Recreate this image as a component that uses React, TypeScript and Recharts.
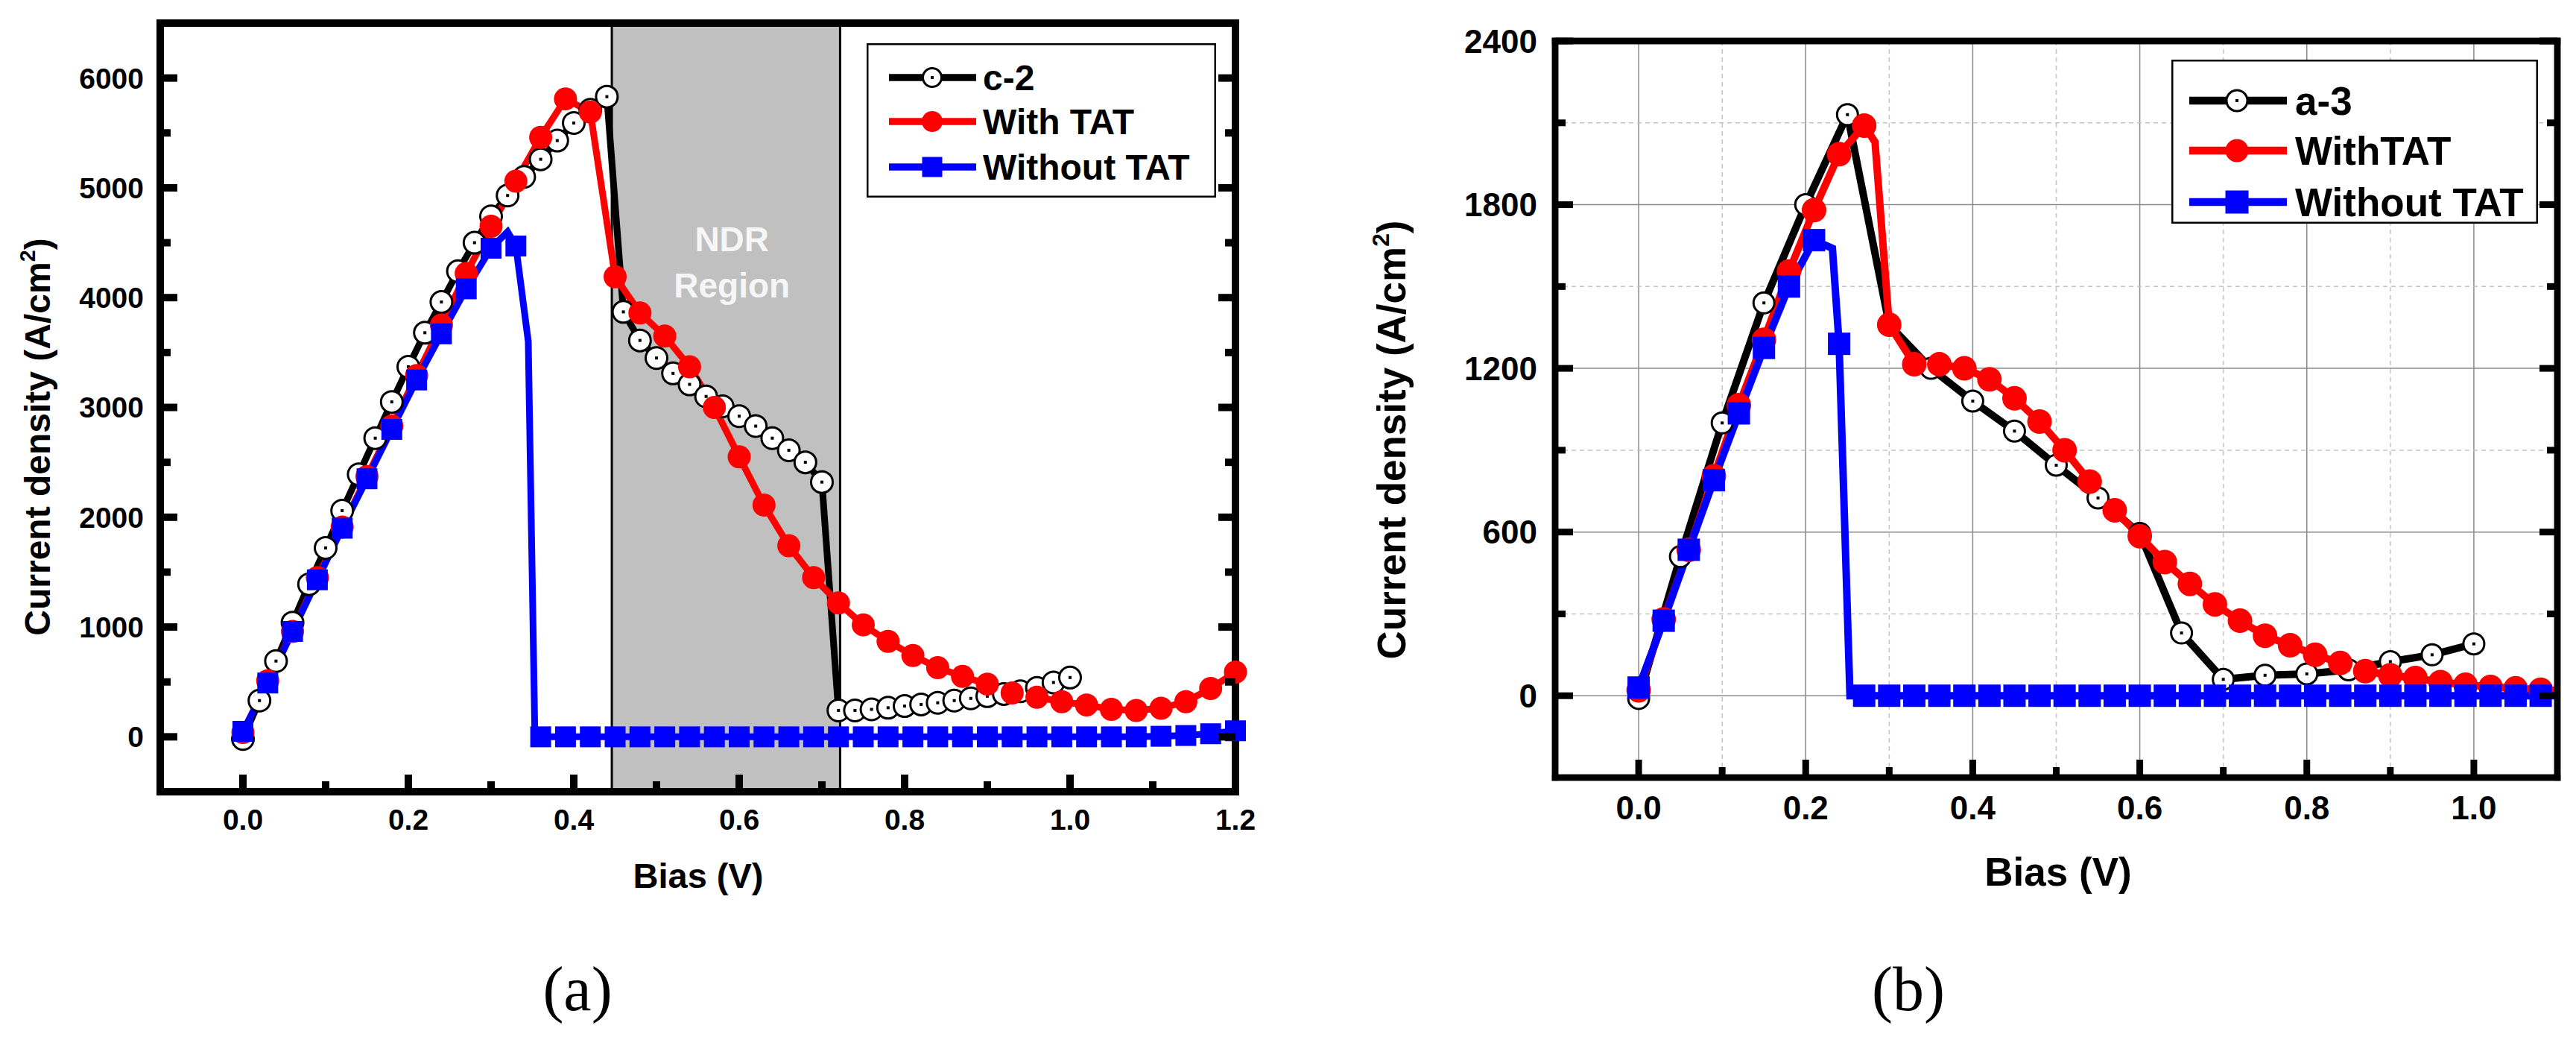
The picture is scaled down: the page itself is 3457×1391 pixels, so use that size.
import React from 'react';
import { LineChart, Line, XAxis, YAxis, CartesianGrid, ReferenceArea, Legend } from 'recharts';

const PAGE_W = 3457;
const PAGE_H = 1391;
const SANS = '"Liberation Sans", Arial, Helvetica, sans-serif';
const SERIF = '"Liberation Serif", "Times New Roman", serif';

const RED = '#ff0000';
const BLUE = '#0000ff';

// ---------- panel (a): sample c-2 ----------
const c2Bias = [0, 0.02, 0.04, 0.06, 0.08, 0.1, 0.12, 0.14, 0.16, 0.18, 0.2, 0.22, 0.24, 0.26, 0.28, 0.3, 0.32, 0.34, 0.36, 0.38, 0.4, 0.42, 0.44, 0.46, 0.48, 0.5, 0.52, 0.54, 0.56, 0.58, 0.6, 0.62, 0.64, 0.66, 0.68, 0.7, 0.72, 0.74, 0.76, 0.78, 0.8, 0.82, 0.84, 0.86, 0.88, 0.9, 0.92, 0.94, 0.96, 0.98, 1.0];
const c2Current = [-20, 330, 690, 1040, 1390, 1720, 2060, 2390, 2720, 3050, 3370, 3680, 3960, 4240, 4500, 4740, 4930, 5100, 5260, 5430, 5590, 5710, 5830, 3870, 3610, 3450, 3310, 3210, 3100, 3010, 2920, 2830, 2720, 2610, 2500, 2320, 240, 240, 250, 265, 280, 295, 310, 330, 350, 370, 390, 415, 445, 495, 540];

const withTatBiasA = [0, 0.03, 0.06, 0.09, 0.12, 0.15, 0.18, 0.21, 0.24, 0.27, 0.3, 0.33, 0.36, 0.39, 0.42, 0.45, 0.48, 0.51, 0.54, 0.57, 0.6, 0.63, 0.66, 0.69, 0.72, 0.75, 0.78, 0.81, 0.84, 0.87, 0.9, 0.93, 0.96, 0.99, 1.02, 1.05, 1.08, 1.11, 1.14, 1.17, 1.2];
const withTatCurrentA = [40, 510, 960, 1450, 1910, 2370, 2830, 3290, 3750, 4220, 4650, 5060, 5460, 5810, 5690, 4190, 3860, 3650, 3370, 3000, 2550, 2110, 1740, 1450, 1220, 1020, 870, 740, 630, 550, 480, 400, 360, 320, 290, 250, 240, 260, 320, 440, 590];

const noTatBiasA = [0, 0.03, 0.06, 0.09, 0.12, 0.15, 0.18, 0.21, 0.24, 0.27, 0.3, 0.32, 0.33, 0.345, 0.353, 0.36, 0.39, 0.42, 0.45, 0.48, 0.51, 0.54, 0.57, 0.6, 0.63, 0.66, 0.69, 0.72, 0.75, 0.78, 0.81, 0.84, 0.87, 0.9, 0.93, 0.96, 0.99, 1.02, 1.05, 1.08, 1.11, 1.14, 1.17, 1.2];
const noTatCurrentA = [50, 490, 960, 1430, 1900, 2350, 2800, 3250, 3670, 4080, 4450, 4600, 4470, 3600, 0, 0, 0, 0, 0, 0, 0, 0, 0, 0, 0, 0, 0, 0, 0, 0, 0, 0, 0, 0, 0, 0, 0, 0, 0, 0, 5, 12, 28, 55];
// simulation points drawn as line only (no symbol)
const noTatBareA = [0.32, 0.345, 0.353];

const namesA = ['c-2', 'With TAT', 'Without TAT'];
const ndrRange = [0.446, 0.722];

const xMajorA = [0, 0.2, 0.4, 0.6, 0.8, 1.0, 1.2];
const xMinorA = [0.1, 0.3, 0.5, 0.7, 0.9, 1.1];
const yMajorA = [0, 1000, 2000, 3000, 4000, 5000, 6000];
const yMinorA = [500, 1500, 2500, 3500, 4500, 5500];

// ---------- panel (b): sample a-3 ----------
const a3Bias = [0, 0.05, 0.1, 0.15, 0.2, 0.25, 0.3, 0.35, 0.4, 0.45, 0.5, 0.55, 0.6, 0.65, 0.7, 0.75, 0.8, 0.85, 0.9, 0.95, 1.0];
const a3Current = [-10, 510, 1000, 1440, 1800, 2130, 1360, 1200, 1080, 970, 845, 725, 595, 230, 60, 75, 80, 95, 125, 150, 190];

const withTatBiasB = [0, 0.03, 0.06, 0.09, 0.12, 0.15, 0.18, 0.21, 0.24, 0.27, 0.283, 0.3, 0.33, 0.36, 0.39, 0.42, 0.45, 0.48, 0.51, 0.54, 0.57, 0.6, 0.63, 0.66, 0.69, 0.72, 0.75, 0.78, 0.81, 0.84, 0.87, 0.9, 0.93, 0.96, 0.99, 1.02, 1.05, 1.08, 1.1];
const withTatCurrentB = [20, 280, 535, 805, 1065, 1305, 1555, 1780, 1985, 2090, 2030, 1360, 1215, 1215, 1200, 1160, 1090, 1005, 900, 785, 680, 585, 490, 410, 335, 275, 220, 185, 150, 120, 90, 75, 65, 50, 40, 32, 27, 22, 20];
const withTatBareB = [0.283, 1.1];

const noTatBiasB = [0, 0.03, 0.06, 0.09, 0.12, 0.15, 0.18, 0.21, 0.232, 0.24, 0.253, 0.27, 0.3, 0.33, 0.36, 0.39, 0.42, 0.45, 0.48, 0.51, 0.54, 0.57, 0.6, 0.63, 0.66, 0.69, 0.72, 0.75, 0.78, 0.81, 0.84, 0.87, 0.9, 0.93, 0.96, 0.99, 1.02, 1.05, 1.08, 1.1];
const noTatCurrentB = [30, 275, 535, 790, 1035, 1275, 1500, 1670, 1640, 1290, 0, 0, 0, 0, 0, 0, 0, 0, 0, 0, 0, 0, 0, 0, 0, 0, 0, 0, 0, 0, 0, 0, 0, 0, 0, 0, 0, 0, 0, 0];
const noTatBareB = [0.232, 0.253, 1.1];

const namesB = ['a-3', 'WithTAT', 'Without TAT'];

const xMajorB = [0, 0.2, 0.4, 0.6, 0.8, 1.0];
const xMinorB = [0.1, 0.3, 0.5, 0.7, 0.9];
const yMajorB = [0, 600, 1200, 1800, 2400];
const yMinorB = [300, 900, 1500, 2100];

type Pt = { v: number; j: number; bare: boolean };

function series(bias: number[], current: number[], bare: number[] = []): Pt[] {
  return bias.map((v, i) => ({ v, j: current[i], bare: bare.includes(v) }));
}

const byValue = (a: number, b: number) => a - b;

type Frame = {
  left: number; right: number; top: number; bottom: number;
  line: number; tick: number; major: number; minor: number;
  font: number; xLabelY: number; yLabelX: number;
  xMajor: number[]; yMajor: number[];
};

const frameA: Frame = {
  left: 215, right: 1658, top: 31, bottom: 1062,
  line: 10, tick: 10, major: 23, minor: 14,
  font: 39, xLabelY: 1113, yLabelX: 193,
  xMajor: xMajorA, yMajor: yMajorA,
};

const frameB: Frame = {
  left: 2087, right: 3432, top: 55, bottom: 1043,
  line: 8.5, tick: 9, major: 24, minor: 14,
  font: 44, xLabelY: 1099, yLabelX: 2063,
  xMajor: xMajorB, yMajor: yMajorB,
};

type Kind = 'open' | 'disc' | 'square';

function Marker({ kind, cx, cy, size, color }: { kind: Kind; cx: number; cy: number; size: number; color: string }) {
  if (kind === 'open') {
    return (
      <g>
        <circle cx={cx} cy={cy} r={size / 2 - 1.5} fill="#fff" stroke="#000" strokeWidth={3} />
        <rect x={cx - 2} y={cy - 2} width={4} height={4} fill="#000" />
      </g>
    );
  }
  if (kind === 'disc') return <circle cx={cx} cy={cy} r={size / 2} fill={color} />;
  return <rect x={cx - size / 2} y={cy - size / 2} width={size} height={size} fill={color} />;
}

const dot = (kind: Kind, size: number, color: string) => (props: any) => {
  const { cx, cy, payload, index } = props;
  if (payload?.bare || cx == null || cy == null) return <g key={`d${index}`} />;
  return <Marker key={`d${index}`} kind={kind} cx={cx} cy={cy} size={size} color={color} />;
};

// inward ticks on all four sides; labels only on the bottom / left majors
const xTick = (f: Frame, side: 'top' | 'bottom') => (props: any) => {
  const { payload, index } = props;
  const x = payload.coordinate;
  const isMajor = f.xMajor.includes(payload.value);
  const len = isMajor ? f.major : f.minor;
  const y0 = side === 'bottom' ? f.bottom : f.top;
  const y1 = side === 'bottom' ? y0 - len : y0 + len;
  return (
    <g key={`${side}${index}`}>
      <line x1={x} x2={x} y1={y0} y2={y1} stroke="#000" strokeWidth={f.tick} />
      {side === 'bottom' && isMajor && (
        <text x={x} y={f.xLabelY} textAnchor="middle" fontFamily={SANS} fontWeight="bold" fontSize={f.font} fill="#000" stroke="none">
          {Number(payload.value).toFixed(1)}
        </text>
      )}
    </g>
  );
};

const yTick = (f: Frame, side: 'left' | 'right') => (props: any) => {
  const { payload, index } = props;
  const y = payload.coordinate;
  const isMajor = f.yMajor.includes(payload.value);
  const len = isMajor ? f.major : f.minor;
  const x0 = side === 'left' ? f.left : f.right;
  const x1 = side === 'left' ? x0 + len : x0 - len;
  return (
    <g key={`${side}${index}`}>
      <line x1={x0} x2={x1} y1={y} y2={y} stroke="#000" strokeWidth={f.tick} />
      {side === 'left' && isMajor && (
        <text x={f.yLabelX} y={y + f.font * 0.358} textAnchor="end" fontFamily={SANS} fontWeight="bold" fontSize={f.font} fill="#000" stroke="none">
          {String(payload.value)}
        </text>
      )}
    </g>
  );
};

function YTitle({ px, py, fs }: { px: number; py: number; fs: number }) {
  return (
    <text transform={`translate(${px},${py}) rotate(-90)`} textAnchor="middle" fontFamily={SANS} fontWeight="bold" fontSize={fs} fill="#000">
      Current density (A/cm
      <tspan fontSize={fs * 0.6} dy={-fs * 0.42}>2</tspan>
      <tspan dy={fs * 0.42}>)</tspan>
    </text>
  );
}

function XTitle({ px, py, fs }: { px: number; py: number; fs: number }) {
  return (
    <text x={px} y={py} textAnchor="middle" fontFamily={SANS} fontWeight="bold" fontSize={fs} fill="#000">
      Bias (V)
    </text>
  );
}

function NdrLabel(props: any) {
  const vb = props.viewBox || { x: 0, y: 0, width: 0 };
  const cx = vb.x + vb.width / 2 + 8;
  return (
    <text textAnchor="middle" fontFamily={SANS} fontWeight="bold" fontSize={46} fill="#f6f6f6">
      <tspan x={cx} y={vb.y + 306}>NDR</tspan>
      <tspan x={cx} y={vb.y + 368}>Region</tspan>
    </text>
  );
}

type LegendGeom = {
  left: number; top: number; width: number; height: number;
  rows: number[]; lineFrom: number; lineTo: number; markX: number; textX: number;
  font: number; lineW: number; mark: number[];
};

const kinds: Kind[] = ['open', 'disc', 'square'];
const colors = ['#000', RED, BLUE];

function LegendBox({ g, names }: { g: LegendGeom; names: string[] }) {
  return (
    <svg width={g.width} height={g.height} style={{ display: 'block' }}>
      <rect x={1.25} y={1.25} width={g.width - 2.5} height={g.height - 2.5} fill="#fff" stroke="#000" strokeWidth={2.5} />
      {names.map((name, i) => (
        <g key={name}>
          <line x1={g.lineFrom} x2={g.lineTo} y1={g.rows[i]} y2={g.rows[i]} stroke={colors[i]} strokeWidth={g.lineW} />
          <Marker kind={kinds[i]} cx={g.markX} cy={g.rows[i]} size={g.mark[i]} color={colors[i]} />
          <text x={g.textX} y={g.rows[i] + g.font * 0.358} fontFamily={SANS} fontWeight="bold" fontSize={g.font} fill="#000">
            {name}
          </text>
        </g>
      ))}
    </svg>
  );
}

const legendA: LegendGeom = {
  left: 1163, top: 58, width: 469, height: 207,
  rows: [46, 105, 166], lineFrom: 30, lineTo: 147, markX: 88, textX: 156,
  font: 48, lineW: 9.5, mark: [28, 28, 27],
};

const legendB: LegendGeom = {
  left: 2914, top: 80, width: 492, height: 220,
  rows: [55, 122, 191], lineFrom: 24, lineTo: 155, markX: 88, textX: 166,
  font: 53, lineW: 10.5, mark: [31, 31, 31],
};

// axes are 1px thick boxes so they render; the margins give that pixel back
const AXIS_PX = 1;

function Panel({
  f, xDomain, yDomain, xTicks, yTicks, children, legend, names, yTitle, xTitle,
}: any) {
  const axisLine = { stroke: '#000', strokeWidth: f.line, strokeLinecap: 'square' as const };
  return (
    <div style={{ position: 'absolute', left: 0, top: 0, width: PAGE_W, height: PAGE_H }}>
      <LineChart
        width={PAGE_W}
        height={PAGE_H}
        margin={{
          top: f.top - AXIS_PX,
          left: f.left - AXIS_PX,
          right: PAGE_W - f.right - AXIS_PX,
          bottom: PAGE_H - f.bottom - AXIS_PX,
        }}
      >
        {children}
        {/* heavy plot frame */}
        <ReferenceArea
          x1={xDomain[0]} x2={xDomain[1]} y1={yDomain[0]} y2={yDomain[1]}
          fill="none" fillOpacity={0} stroke="#000" strokeWidth={f.line} ifOverflow="visible"
        />
        <XAxis
          type="number" dataKey="v" domain={xDomain} ticks={xTicks} interval={0} height={AXIS_PX}
          stroke="#000" strokeWidth={f.line}
          axisLine={axisLine} tickLine={false} tick={xTick(f, 'bottom')}
          label={<XTitle px={xTitle[0]} py={xTitle[1]} fs={xTitle[2]} />}
        />
        <XAxis
          xAxisId="top" orientation="top" type="number" domain={xDomain} ticks={xTicks} interval={0} height={AXIS_PX}
          stroke="#000" strokeWidth={f.line}
          allowDataOverflow axisLine={axisLine} tickLine={false} tick={xTick(f, 'top')}
        />
        <YAxis
          type="number" domain={yDomain} ticks={yTicks} interval={0} width={AXIS_PX}
          stroke="#000" strokeWidth={f.line}
          axisLine={axisLine} tickLine={false} tick={yTick(f, 'left')}
          label={<YTitle px={yTitle[0]} py={yTitle[1]} fs={yTitle[2]} />}
        />
        <YAxis
          yAxisId="right" orientation="right" type="number" domain={yDomain} ticks={yTicks} interval={0} width={AXIS_PX}
          stroke="#000" strokeWidth={f.line}
          allowDataOverflow axisLine={axisLine} tickLine={false} tick={yTick(f, 'right')}
        />
        <Legend
          layout="vertical" align="center" verticalAlign="middle"
          width={legend.width} height={legend.height}
          wrapperStyle={{ left: legend.left, top: legend.top, width: legend.width, height: legend.height }}
          content={() => <LegendBox g={legend} names={names} />}
        />
      </LineChart>
    </div>
  );
}

export default function App() {
  const c2 = series(c2Bias, c2Current);
  const tatA = series(withTatBiasA, withTatCurrentA);
  const noTatA = series(noTatBiasA, noTatCurrentA, noTatBareA);
  const a3 = series(a3Bias, a3Current);
  const tatB = series(withTatBiasB, withTatCurrentB, withTatBareB);
  const noTatB = series(noTatBiasB, noTatCurrentB, noTatBareB);

  return (
    <div style={{ position: 'absolute', left: 0, top: 0, width: PAGE_W, height: PAGE_H, background: '#fff', overflow: 'hidden' }}>
      <Panel
        f={frameA} xDomain={[-0.1, 1.2]} yDomain={[-500, 6500]}
        xTicks={[...xMajorA, ...xMinorA].sort(byValue)} yTicks={[...yMajorA, ...yMinorA].sort(byValue)}
        legend={legendA} names={namesA} yTitle={[67, 586, 48]} xTitle={[937, 1191, 47]}
      >
        <ReferenceArea
          x1={ndrRange[0]} x2={ndrRange[1]} fill="#c0c0c0" fillOpacity={1} stroke="#000" strokeWidth={3}
          label={<NdrLabel />}
        />
        <Line data={c2} dataKey="j" name={namesA[0]} type="linear" stroke="#000" strokeWidth={9}
          dot={dot('open', 32, '#000')} activeDot={false} isAnimationActive={false} />
        <Line data={tatA} dataKey="j" name={namesA[1]} type="linear" stroke={RED} strokeWidth={9}
          dot={dot('disc', 31, RED)} activeDot={false} isAnimationActive={false} />
        <Line data={noTatA} dataKey="j" name={namesA[2]} type="linear" stroke={BLUE} strokeWidth={9}
          dot={dot('square', 28, BLUE)} activeDot={false} isAnimationActive={false} />
      </Panel>

      <Panel
        f={frameB} xDomain={[-0.1, 1.1]} yDomain={[-300, 2400]}
        xTicks={[...xMajorB, ...xMinorB].sort(byValue)} yTicks={[...yMajorB, ...yMinorB].sort(byValue)}
        legend={legendB} names={namesB} yTitle={[1886, 590, 53]} xTitle={[2762, 1188, 53]}
      >
        <CartesianGrid verticalValues={xMajorB} horizontalValues={yMajorB} stroke="#8a8a8a" strokeWidth={1.5} />
        <CartesianGrid verticalValues={xMinorB} horizontalValues={yMinorB} stroke="#c4c4c4" strokeWidth={1.5} strokeDasharray="6 5" />
        <Line data={a3} dataKey="j" name={namesB[0]} type="linear" stroke="#000" strokeWidth={10}
          dot={dot('open', 31, '#000')} activeDot={false} isAnimationActive={false} />
        <Line data={tatB} dataKey="j" name={namesB[1]} type="linear" stroke={RED} strokeWidth={10}
          dot={dot('disc', 33, RED)} activeDot={false} isAnimationActive={false} />
        <Line data={noTatB} dataKey="j" name={namesB[2]} type="linear" stroke={BLUE} strokeWidth={10}
          dot={dot('square', 30, BLUE)} activeDot={false} isAnimationActive={false} />
      </Panel>

      <svg width={PAGE_W} height={PAGE_H} style={{ position: 'absolute', left: 0, top: 0, pointerEvents: 'none' }}>
        <text x={775} y={1355} textAnchor="middle" fontFamily={SERIF} fontSize={84} fill="#000">(a)</text>
        <text x={2561} y={1355} textAnchor="middle" fontFamily={SERIF} fontSize={84} fill="#000">(b)</text>
      </svg>
    </div>
  );
}
